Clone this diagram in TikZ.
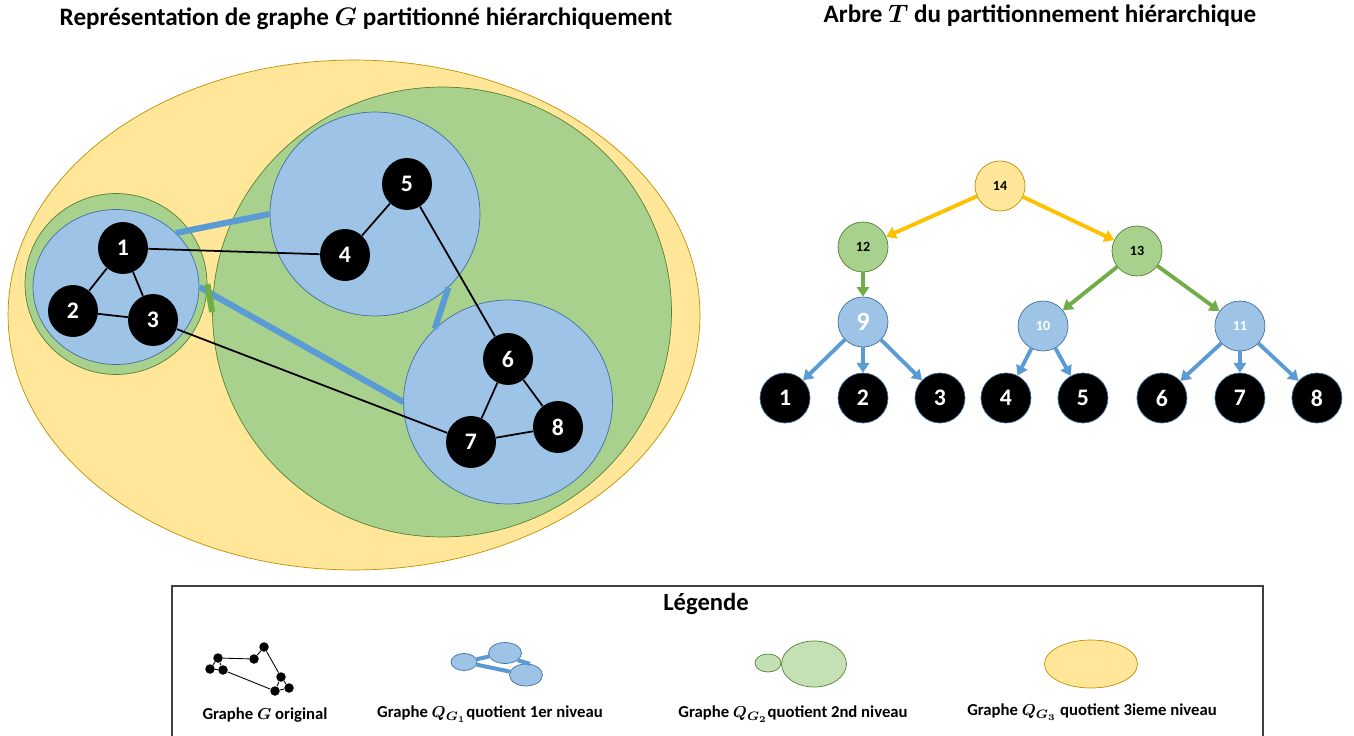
\documentclass[tikz,border=0pt]{standalone}
\usepackage{amsmath}
\usepackage{fontspec}
\setmainfont{Carlito}
\usepackage{tikz}
\usetikzlibrary{shapes,arrows,arrows.meta,calc}
\definecolor{yfill}{HTML}{FFE699}
\definecolor{ydraw}{HTML}{BF9000}
\definecolor{yarrow}{HTML}{FFC000}
\definecolor{gfill}{HTML}{A9D18E}
\definecolor{glight}{HTML}{C5E0B4}
\definecolor{gdraw}{HTML}{548235}
\definecolor{garrow}{HTML}{70AD47}
\definecolor{bfill}{HTML}{9DC3E6}
\definecolor{bdraw}{HTML}{41719C}
\definecolor{barrow}{HTML}{5B9BD5}
\definecolor{legend_gray}{HTML}{404040}
\tikzstyle{vertex} = [ellipse, fill=black, minimum width=1cm, minimum height=1.04cm, inner sep=0pt, text=white, font=\fontsize{13.5}{13.5}\selectfont\bfseries]
\tikzstyle{mini_vertex} = [circle, fill=black, minimum size=0.19cm, inner sep=0pt]
\tikzstyle{part_yellow} = [ellipse, draw=ydraw, fill=yfill, inner sep=0pt]
\tikzstyle{part_green} = [ellipse, draw=gdraw, fill=gfill, inner sep=0pt]
\tikzstyle{part_blue} = [ellipse, draw=bdraw, fill=bfill, inner sep=0pt]
\tikzstyle{edge} = [draw, line width=1pt]
\tikzstyle{quot_blue} = [draw=barrow, line width=3.5pt]
\tikzstyle{quot_green} = [draw=garrow, line width=3.5pt]
\tikzstyle{tree_leaf} = [circle, fill=black, draw=bdraw, minimum size=1cm, inner sep=0pt, text=white, font=\fontsize{13.5}{13.5}\selectfont\bfseries]
\tikzstyle{tree_node} = [circle, minimum size=1cm, inner sep=0pt, font=\fontsize{8}{8}\selectfont\bfseries]
\tikzstyle{line_yellow} = [draw=yarrow, line width=2.2pt, -{Triangle[length=5.5pt,width=7pt]}]
\tikzstyle{line_green} = [draw=garrow, line width=2.2pt, -{Triangle[length=5.5pt,width=7pt]}]
\tikzstyle{line_blue} = [draw=barrow, line width=2.2pt, -{Triangle[length=5.5pt,width=7pt]}]
\tikzstyle{caption} = [font=\fontsize{9.5}{9.5}\selectfont\bfseries]
\tikzstyle{title} = [font=\fontsize{14.3}{14.3}\selectfont\bfseries]

\begin{document}
\begin{tikzpicture}[x=0.02cm, y=-0.02cm]
		\useasboundingbox (0,0) rectangle (1354,736);
		
		\node[title] (title_G) at (366,19) {Représentation de graphe $\boldsymbol{G}$ partitionné hiérarchiquement};
		\node[title] (title_T) at (1040,16) {Arbre $\boldsymbol{T}$ du partitionnement hiérarchique};
		
		% partitions
		\node[part_yellow, minimum width=13.84cm, minimum height=10.2cm] (Y_1) at (354,315) {};
		\node[part_green, minimum width=9.18cm, minimum height=9cm] (G_2) at (442,312) {};
		\node[part_green, minimum width=3.64cm, minimum height=3.62cm] (G_1) at (116,284) {};
		\node[part_blue, minimum width=3.32cm, minimum height=3.1cm] (B_1) at (116,287) {};
		\node[part_blue, minimum width=4.2cm, minimum height=4.08cm] (B_2) at (375,214) {};
		\node[part_blue, minimum width=4.18cm, minimum height=4.08cm] (B_3) at (508,402) {};
		
		\path [quot_blue] (B_1.42) to (B_2.180);
		\path [quot_blue] (B_1.0) to (B_3.180);
		\path [quot_blue] (B_2.-45) to (B_3.135);
		\path [quot_green] (G_1.0) to (G_2.180);
		
		% graph G
		\node[vertex] (v1) at (123,248) {1};
		\node[vertex] (v2) at (73,311) {2};
		\node[vertex] (v3) at (153,320) {3};
		\node[vertex] (v4) at (345,255) {4};
		\node[vertex] (v5) at (407,184) {5};
		\node[vertex] (v6) at (508,359) {6};
		\node[vertex] (v7) at (471,442) {7};
		\node[vertex] (v8) at (558,427) {8};
		
		\path [edge] (v1) to (v2);
		\path [edge] (v1) to (v3);
		\path [edge] (v2) to (v3);
		\path [edge] (v1) to (v4);
		\path [edge] (v4) to (v5);
		\path [edge] (v5) to (v6);
		\path [edge] (v3) to (v7);
		\path [edge] (v6) to (v7);
		\path [edge] (v6) to (v8);
		\path [edge] (v7) to (v8);
		
		% tree T
		\node[tree_leaf] at (785,398) (t1) {1};
		\node[tree_leaf, right of=t1, node distance=1.56cm] (t2) {2};
		\node[tree_leaf, right of=t2, node distance=1.54cm] (t3) {3};
		\node[tree_leaf, right of=t3, node distance=1.32cm] (t4) {4};
		\node[tree_leaf, right of=t4, node distance=1.54cm] (t5) {5};
		\node[tree_leaf, right of=t5, node distance=1.58cm] (t6) {6};
		\node[tree_leaf, right of=t6, node distance=1.56cm] (t7) {7};
		\node[tree_leaf, right of=t7, node distance=1.54cm] (t8) {8};
		
		\node[tree_node, part_blue, above of=t2, node distance=1.52cm, text=white, font=\fontsize{15}{15}\selectfont\bfseries] (t9) {9};
		\node[tree_node, part_blue, text=white] at (1043,326) (t10) {10};
		\node[tree_node, part_blue, above of=t7, node distance=1.44cm, text=white] (t11) {11};
		\node[tree_node, part_green, above of=t9, node distance=1.5cm] (t12) {12};
		\node[tree_node, part_green] at (1137,251) (t13) {13};
		\node[tree_node, part_yellow] at (1000,186) (t14) {14};
		
		\path [line_yellow] (t14) to (t12);
		\path [line_yellow] (t14) to (t13);
		\path [line_green] (t12) to (t9);
		\path [line_green] (t13) to (t10);
		\path [line_green] (t13) to (t11);
		\path [line_blue] (t9) to (t1);
		\path [line_blue] (t9) to (t2);
		\path [line_blue] (t9) to (t3);
		\path [line_blue] (t10) to (t4);
		\path [line_blue] (t10) to (t5);
		\path [line_blue] (t11) to (t6);
		\path [line_blue] (t11) to (t7);
		\path [line_blue] (t11) to (t8);
		
		% legend
		\draw [draw=legend_gray, line width=0.8pt] (172,586) rectangle (1263,745);
		\node[font=\fontsize{14}{14}\selectfont\bfseries] (legend) at (706,604) {Légende};
		
		\node[mini_vertex] (m1) at (218,658) {};
		\node[mini_vertex] (m2) at (210,669) {};
		\node[mini_vertex] (m3) at (223,670) {};
		\node[mini_vertex] (m4) at (254,659) {};
		\node[mini_vertex] (m5) at (264,647) {};
		\node[mini_vertex] (m6) at (281,677) {};
		\node[mini_vertex] (m7) at (275,691) {};
		\node[mini_vertex] (m8) at (289,688) {};
		\path [draw, line width=0.5pt] (m1) to (m2);
		\path [draw, line width=0.5pt] (m1) to (m3);
		\path [draw, line width=0.5pt] (m2) to (m3);
		\path [draw, line width=0.5pt] (m1) to (m4);
		\path [draw, line width=0.5pt] (m4) to (m5);
		\path [draw, line width=0.5pt] (m5) to (m6);
		\path [draw, line width=0.5pt] (m3) to (m7);
		\path [draw, line width=0.5pt] (m6) to (m7);
		\path [draw, line width=0.5pt] (m6) to (m8);
		\path [draw, line width=0.5pt] (m7) to (m8);
		\node[caption] (cap_G) at (265,715) {Graphe $\boldsymbol{G}$ original};
		
		\node[part_blue, minimum width=0.52cm, minimum height=0.34cm] (qa) at (464,662) {};
		\node[part_blue, minimum width=0.66cm, minimum height=0.42cm] (qb) at (505,653) {};
		\node[part_blue, minimum width=0.66cm, minimum height=0.44cm] (qc) at (526,675) {};
		\path [draw=barrow, line width=2.3pt] (qa) to (qb);
		\path [draw=barrow, line width=2.3pt] (qa) to (qc);
		\path [draw=barrow, line width=2.3pt] (qb.-30) to (qc.70);
		\node[caption] (cap_Q1) at (490,714) {Graphe $\boldsymbol{Q_{G_1}}$quotient 1er niveau};
		
		\node[ellipse, draw=gdraw, fill=glight, minimum width=0.52cm, minimum height=0.36cm, inner sep=0pt] (qg1) at (768,663) {};
		\node[ellipse, draw=gdraw, fill=glight, minimum width=1.3cm, minimum height=0.92cm, inner sep=0pt] (qg2) at (814,664) {};
		\node[caption] (cap_Q2) at (793,714) {Graphe $\boldsymbol{Q_{G_2}}$quotient 2nd niveau};
		
		\node[part_yellow, minimum width=1.86cm, minimum height=0.96cm] (qy) at (1091,664) {};
		\node[caption] (cap_Q3) at (1092,712) {Graphe $\boldsymbol{Q_{G_3}}$ quotient 3ieme niveau};
		
\end{tikzpicture}
\end{document}
